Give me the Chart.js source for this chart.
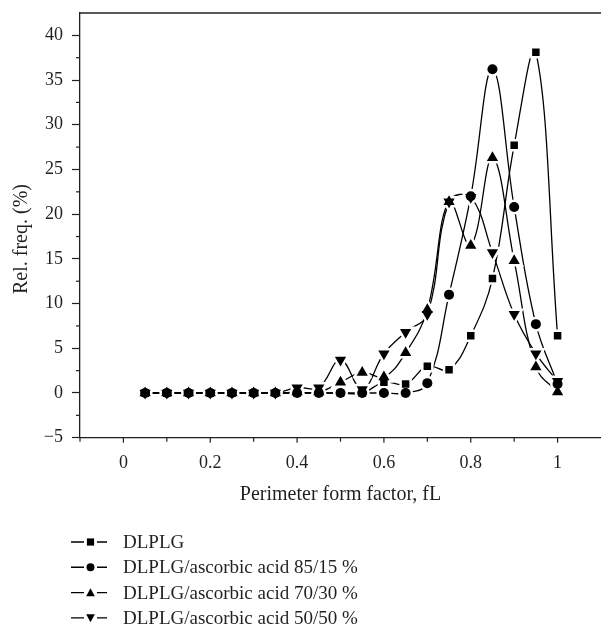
<!DOCTYPE html>
<html>
<head>
<meta charset="utf-8">
<script src="https://cdn.jsdelivr.net/npm/chart.js@4.4.0/dist/chart.umd.min.js"></script>
<style>
  body { margin: 0; background: #fff; }
</style>
</head>
<body>
<canvas id="myChart" width="601" height="631"></canvas>
<script>
// perimeter form factor classes
const fL = [0.05, 0.1, 0.15, 0.2, 0.25, 0.3, 0.35, 0.4, 0.45, 0.5,
            0.55, 0.6, 0.65, 0.7, 0.75, 0.8, 0.85, 0.9, 0.95, 1.0];

// relative frequency (%)
const dlplg   = [0, 0, 0, 0, 0, 0, 0, 0, 0, 0, 0, 1.2, 1.0, 3.0, 2.6, 6.4, 12.8, 27.7, 38.1, 6.4];
const asc8515 = [0, 0, 0, 0, 0, 0, 0, 0, 0, 0, 0, 0, 0, 1.1, 11.0, 22.0, 36.2, 20.8, 7.7, 1.0];
const asc7030 = [0, 0, 0, 0, 0, 0, 0, 0.1, 0.1, 1.2, 2.3, 1.8, 4.5, 9.3, 21.4, 16.5, 26.3, 14.8, 2.9, 0.1];
const asc5050 = [0, 0, 0, 0, 0, 0, 0, 0.6, 0.6, 3.7, 0.4, 4.4, 6.8, 8.8, 21.4, 21.9, 15.7, 8.8, 4.4, 1.3];

const seriesNames = ['DLPLG', 'DLPLG/ascorbic acid 85/15 %', 'DLPLG/ascorbic acid 70/30 %', 'DLPLG/ascorbic acid 50/50 %'];
const seriesData = [dlplg, asc8515, asc7030, asc5050];

const xTicks = [0, 0.2, 0.4, 0.6, 0.8, 1];
const yTicks = [-5, 0, 5, 10, 15, 20, 25, 30, 35, 40];
const yTitle = 'Rel. freq. (%)';

const txt = '#231f20';
const serif = "'Liberation Serif', 'DejaVu Serif', serif";

// marker look per series
const markers = [
    { style: 'rect', r: 5.3, rot: 0 },
    { style: 'circle', r: 5, rot: 0 },
    { style: 'triangle', r: 6.5, rot: 0 },
    { style: 'triangle', r: 6.5, rot: 180 }
];

function toPoints(arr) {
    return arr.map((v, i) => ({ x: fL[i], y: v }));
}

let datasets = [];
seriesData.forEach((d, i) => {
    let m = markers[i];
    // the curve
    datasets.push({
        label: seriesNames[i],
        data: toPoints(d),
        showLine: true,
        borderColor: '#000',
        borderWidth: 1.3,
        tension: 0.4,
        pointRadius: 0,
        order: 3
    });
    // white halo so line stops short of the symbol
    datasets.push({
        label: seriesNames[i] + ' halo',
        data: toPoints(d),
        showLine: false,
        pointStyle: m.style,
        pointRadius: m.r,
        pointRotation: m.rot,
        pointBackgroundColor: '#fff',
        pointBorderColor: '#fff',
        pointBorderWidth: 5,
        order: 2
    });
    // the symbol
    datasets.push({
        label: seriesNames[i] + ' symbol',
        data: toPoints(d),
        showLine: false,
        pointStyle: m.style,
        pointRadius: m.r,
        pointRotation: m.rot,
        pointBackgroundColor: '#000',
        pointBorderWidth: 0,
        order: 1
    });
});

function drawMarker(ctx, m, x, y, s) {
    ctx.beginPath();
    if (m.style == 'rect') {
        ctx.rect(x - s, y - s, 2 * s, 2 * s);
    } else if (m.style == 'circle') {
        ctx.arc(x, y, s * 1.1, 0, Math.PI * 2);
    } else {
        let d = m.rot ? -1 : 1;
        ctx.moveTo(x, y - d * s * 1.2);
        ctx.lineTo(x + s * 1.2, y + d * s);
        ctx.lineTo(x - s * 1.2, y + d * s);
        ctx.closePath();
    }
    ctx.fill();
}

const framePlugin = {
    id: 'frame',
    afterDraw(chart) {
        let ctx = chart.ctx;
        let a = chart.chartArea;
        let xs = chart.scales.x;
        let ys = chart.scales.y;
        ctx.save();
        ctx.strokeStyle = txt;
        ctx.lineWidth = 1.3;
        // top line
        ctx.beginPath();
        ctx.moveTo(a.left, a.top);
        ctx.lineTo(a.right, a.top);
        ctx.stroke();
        // x ticks, every 0.1
        ctx.lineWidth = 1.2;
        for (let k = 0; k <= 11; k++) {
            let px = xs.getPixelForValue(k / 10 - 0.1);
            ctx.beginPath();
            ctx.moveTo(px, a.bottom);
            ctx.lineTo(px, a.bottom + (k % 2 ? 5 : 4));
            ctx.stroke();
        }
        // minor y ticks
        for (let v = -2.5; v < 42.5; v += 5) {
            let py = ys.getPixelForValue(v);
            ctx.beginPath();
            ctx.moveTo(a.left - 4, py);
            ctx.lineTo(a.left, py);
            ctx.stroke();
        }
        // y title (sits a bit below the middle in the original)
        ctx.save();
        ctx.fillStyle = txt;
        ctx.font = '20px ' + serif;
        ctx.textAlign = 'center';
        ctx.textBaseline = 'alphabetic';
        ctx.translate(27, 239);
        ctx.rotate(-Math.PI / 2);
        ctx.fillText(yTitle, 0, 0);
        ctx.restore();
        // legend
        ctx.fillStyle = '#000';
        ctx.strokeStyle = '#000';
        ctx.lineWidth = 1.4;
        ctx.font = '19px ' + serif;
        ctx.textBaseline = 'middle';
        seriesNames.forEach((name, i) => {
            let y = 542 + i * 25.3;
            ctx.beginPath();
            ctx.moveTo(71, y);
            ctx.lineTo(84, y);
            ctx.moveTo(97, y);
            ctx.lineTo(107, y);
            ctx.stroke();
            drawMarker(ctx, markers[i], 90.5, y, 3.6);
            ctx.fillStyle = txt;
            ctx.fillText(name, 123, y + 1);
            ctx.fillStyle = '#000';
        });
        ctx.restore();
    }
};

new Chart(document.getElementById('myChart'), {
    type: 'scatter',
    data: { datasets: datasets },
    options: {
        responsive: false,
        animation: false,
        layout: {
            autoPadding: false,
            padding: { left: 5, top: 13, right: 0, bottom: 120 }
        },
        plugins: {
            legend: { display: false },
            tooltip: { enabled: false }
        },
        scales: {
            x: {
                type: 'linear',
                min: -0.1,
                max: 1.1,
                afterFit(s) {
                    s.height = 73.3;
                    s.paddingLeft = 0;
                    s.paddingRight = 0;
                },
                afterBuildTicks(s) {
                    s.ticks = xTicks.map(v => ({ value: v }));
                },
                grid: {
                    drawOnChartArea: false,
                    drawTicks: true,
                    tickLength: 15,
                    tickColor: 'rgba(0,0,0,0)'
                },
                border: { display: true, color: txt, width: 1.3 },
                ticks: {
                    autoSkip: false,
                    maxRotation: 0,
                    padding: 0,
                    color: txt,
                    font: { family: serif, size: 18 },
                    callback: function(v) {
                        return String(Math.round(v * 10) / 10);
                    }
                },
                title: {
                    display: true,
                    text: 'Perimeter form factor, fL',
                    color: txt,
                    font: { family: serif, size: 20 }
                }
            },
            y: {
                min: -5,
                max: 42.5,
                afterFit(s) {
                    s.width = 75;
                    s.paddingTop = 0;
                    s.paddingBottom = 0;
                },
                afterBuildTicks(s) {
                    s.ticks = yTicks.map(v => ({ value: v }));
                },
                grid: {
                    drawOnChartArea: false,
                    drawTicks: true,
                    tickLength: 8,
                    tickColor: txt,
                    tickWidth: 1.2
                },
                border: { display: true, color: txt, width: 1.3 },
                ticks: {
                    autoSkip: false,
                    padding: 9,
                    color: txt,
                    font: { family: serif, size: 18 },
                    callback: function(v) {
                        return v < 0 ? '\u2212' + Math.abs(v) : String(v);
                    }
                },
                title: { display: false }
            }
        }
    },
    plugins: [framePlugin]
});
</script>
</body>
</html>
